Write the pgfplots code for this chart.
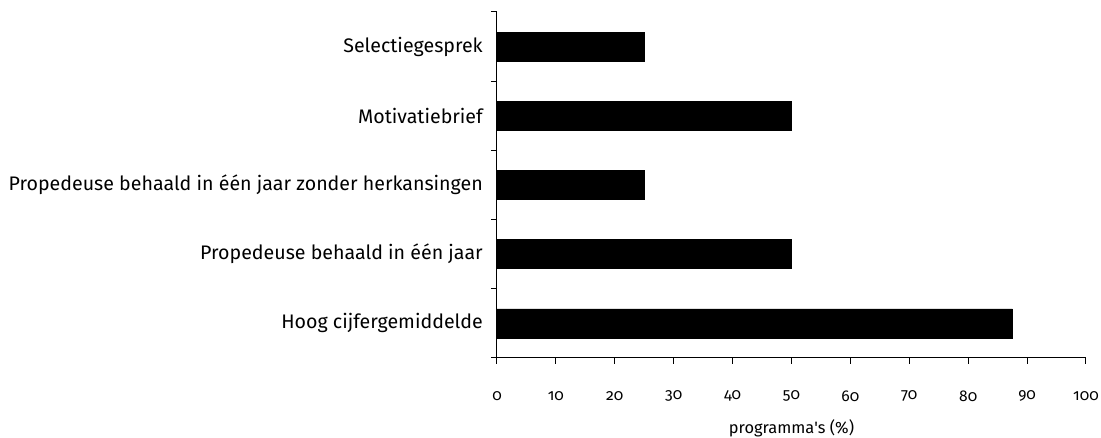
\documentclass[border=0pt]{standalone}
\usepackage{pgfplots}
\pgfplotsset{compat=1.18}
\usepackage{fontspec}
\setmainfont{Fira Sans}[Numbers=OldStyle]
\begin{document}
\begin{tikzpicture}
\path[use as bounding box] (-372.75pt,-60pt) rectangle (453pt,268.5pt);
\begin{axis}[
  at={(0,0)}, anchor=south west,
  scale only axis,
  width=441.75pt, height=259.5pt,
  xmin=0, xmax=100,
  ymin=-0.5, ymax=4.5,
  axis x line*=bottom, axis y line*=left,
  axis line style={line width=0.75pt, black},
  xtick={0,10,...,100},
  ytick={0,1,2,3,4},
  yticklabels={Hoog cijfergemiddelde, Propedeuse behaald in één jaar, Propedeuse behaald in één jaar zonder herkansingen, Motivatiebrief, Selectiegesprek},
  minor ytick={-0.5,0.5,1.5,2.5,3.5,4.5},
  tick align=outside,
  major tick length=4.5pt,
  minor tick length=4.5pt,
  every tick/.style={black, line width=0.75pt},
  major y tick style={draw=none},
  /pgf/number format/assume math mode=true,
  xticklabel style={font=\fontsize{11.7pt}{14pt}\selectfont, anchor=center, yshift=-24pt},
  yticklabel style={font=\fontsize{14.7pt}{17pt}\selectfont, anchor=east, inner sep=0pt, xshift=-6pt},
  xlabel={programma\textquotesingle s (\%)},
  xlabel style={font=\fontsize{12.3pt}{14pt}\selectfont, at={(axis description cs:0.5,0)}, anchor=center, yshift=-52.5pt},
]
\addplot[xbar, bar width=21.75pt, fill=black, draw=black] coordinates {(87.5,0) (50,1) (25,2) (50,3) (25,4)};
\end{axis}
\end{tikzpicture}
\end{document}
